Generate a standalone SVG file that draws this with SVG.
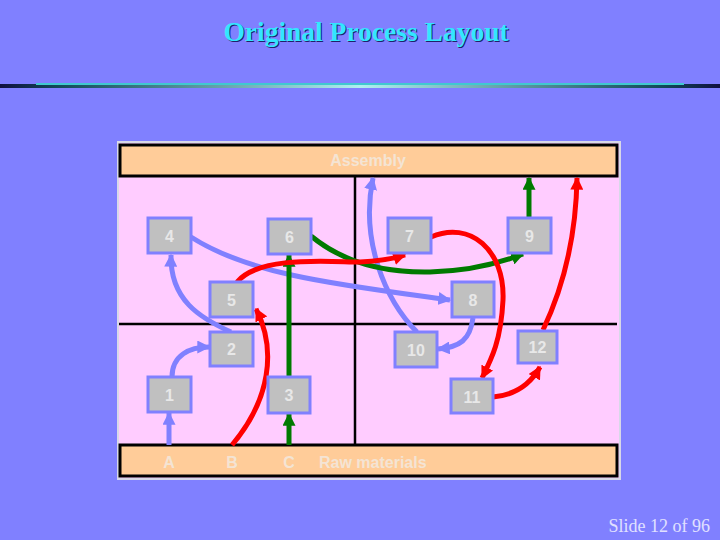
<svg xmlns="http://www.w3.org/2000/svg" width="720" height="540" viewBox="0 0 720 540">
<defs>
<linearGradient id="bar" x1="0" y1="0" x2="1" y2="0">
<stop offset="0" stop-color="#101040"/>
<stop offset="0.08" stop-color="#104858"/>
<stop offset="0.5" stop-color="#B0F0F0"/>
<stop offset="0.92" stop-color="#104858"/>
<stop offset="1" stop-color="#101040"/>
</linearGradient>
<marker id="ab" viewBox="0 0 10 10" refX="9" refY="5" markerWidth="13" markerHeight="13" markerUnits="userSpaceOnUse" orient="auto"><path d="M0,0L10,5L0,10z" fill="#8080FF"/></marker>
<marker id="ag" viewBox="0 0 10 10" refX="9" refY="5" markerWidth="13" markerHeight="13" markerUnits="userSpaceOnUse" orient="auto"><path d="M0,0L10,5L0,10z" fill="#007A00"/></marker>
<marker id="ar" viewBox="0 0 10 10" refX="9" refY="5" markerWidth="13" markerHeight="13" markerUnits="userSpaceOnUse" orient="auto"><path d="M0,0L10,5L0,10z" fill="#FF0000"/></marker>
<style>
.node rect{fill:#C0C0C0;stroke:#8080FF;stroke-width:3}
.lbl{font-family:"Liberation Sans",Arial,sans-serif;font-weight:bold;font-size:16px;fill:#E8E8E8;text-anchor:middle}
.band{fill:#FFCC99;stroke:#000;stroke-width:3}
.bl{fill:none;stroke:#8080FF;stroke-width:5}
.gr{fill:none;stroke:#007A00;stroke-width:5}
.rd{fill:none;stroke:#FF0000;stroke-width:5}
</style>
</defs>
<rect width="720" height="540" fill="#8080FF"/>
<text x="367" y="42" font-family="Liberation Serif,'Times New Roman',serif" font-weight="bold" font-size="27.5" text-anchor="middle" fill="#20206A">Original Process Layout</text>
<text x="366" y="41" font-family="Liberation Serif,'Times New Roman',serif" font-weight="bold" font-size="27.5" text-anchor="middle" fill="#33E6FF">Original Process Layout</text>
<rect x="0" y="84" width="720" height="4" fill="url(#bar)"/>
<rect x="36" y="83" width="648" height="2" fill="#40C8D0"/>
<text x="710" y="532" font-family="Liberation Serif,'Times New Roman',serif" font-size="18" text-anchor="end" fill="#E0E0FF">Slide 12 of 96</text>

<g id="floor">
<rect x="118" y="142" width="502" height="337" fill="#FFCCFF" stroke="#D8D8E8" stroke-width="2"/>
<line x1="355" y1="176" x2="355" y2="445" stroke="#000" stroke-width="2.5"/>
<line x1="119" y1="324" x2="617" y2="324" stroke="#000" stroke-width="2.5"/>
</g>
<g id="assembly">
<rect class="band" x="120" y="145" width="497" height="31"/>
<text class="lbl" x="368" y="166" style="fill:#F4E4D4">Assembly</text>
</g>
<g id="raw">
<rect class="band" x="120" y="445" width="497" height="31"/>
<text class="lbl" x="169" y="468" style="fill:#F4E4D4">A</text>
<text class="lbl" x="232" y="468" style="fill:#F4E4D4">B</text>
<text class="lbl" x="289" y="468" style="fill:#F4E4D4">C</text>
<text class="lbl" x="319" y="468" style="fill:#F4E4D4;text-anchor:start">Raw materials</text>
</g>

<g id="connectors">
<path class="bl" d="M169,445 L169,413" marker-end="url(#ab)"/>
<path class="bl" d="M172,377 C172,355 190,347 209,347" marker-end="url(#ab)"/>
<path class="bl" d="M231,332 C200,318 170,300 171,255" marker-end="url(#ab)"/>
<path class="bl" d="M191,237 C250,275 340,285 450,300" marker-end="url(#ab)"/>
<path class="bl" d="M473,318 C470,340 460,347 438,349" marker-end="url(#ab)"/>
<path class="bl" d="M417,332 C385,300 360,240 373,178" marker-end="url(#ab)"/>
<path class="gr" d="M289,445 L289,414" marker-end="url(#ag)"/>
<path class="gr" d="M289,377 L289,255" marker-end="url(#ag)"/>
<path class="gr" d="M311,236 C340,260 380,273 430,272 C470,271 500,263 523,254" marker-end="url(#ag)"/>
<path class="gr" d="M529,218 L529,178" marker-end="url(#ag)"/>
<path class="rd" d="M232,445 C270,400 277,350 256,309" marker-end="url(#ar)"/>
<path class="rd" d="M237,282 C260,255 330,262 360,262 C380,261 393,259 405,255" marker-end="url(#ar)"/>
<path class="rd" d="M431,237 C470,220 505,250 503,300 C501,340 492,358 482,378" marker-end="url(#ar)"/>
<path class="rd" d="M493,397 C515,395 530,385 540,367" marker-end="url(#ar)"/>
<path class="rd" d="M543,330 C562,290 576,240 577,178" marker-end="url(#ar)"/>
</g>

<g id="n4" class="node"><rect x="148" y="218" width="43" height="35"/><text class="lbl" x="169.5" y="242">4</text></g>
<g id="n6" class="node"><rect x="268" y="219" width="43" height="35"/><text class="lbl" x="289.5" y="243">6</text></g>
<g id="n7" class="node"><rect x="388" y="218" width="43" height="35"/><text class="lbl" x="409.5" y="242">7</text></g>
<g id="n9" class="node"><rect x="508" y="218" width="43" height="35"/><text class="lbl" x="529.5" y="242">9</text></g>
<g id="n5" class="node"><rect x="210" y="282" width="43" height="35"/><text class="lbl" x="231.5" y="306">5</text></g>
<g id="n8" class="node"><rect x="452" y="282" width="42" height="35"/><text class="lbl" x="473" y="306">8</text></g>
<g id="n2" class="node"><rect x="210" y="332" width="43" height="34"/><text class="lbl" x="231.5" y="355">2</text></g>
<g id="n10" class="node"><rect x="395" y="332" width="42" height="35"/><text class="lbl" x="416" y="356">10</text></g>
<g id="n12" class="node"><rect x="518" y="331" width="39" height="32"/><text class="lbl" x="537.5" y="353">12</text></g>
<g id="n1" class="node"><rect x="148" y="377" width="43" height="35"/><text class="lbl" x="169.5" y="401">1</text></g>
<g id="n3" class="node"><rect x="268" y="377" width="42" height="36"/><text class="lbl" x="289" y="401">3</text></g>
<g id="n11" class="node"><rect x="451" y="379" width="42" height="34"/><text class="lbl" x="472" y="403">11</text></g>
</svg>
